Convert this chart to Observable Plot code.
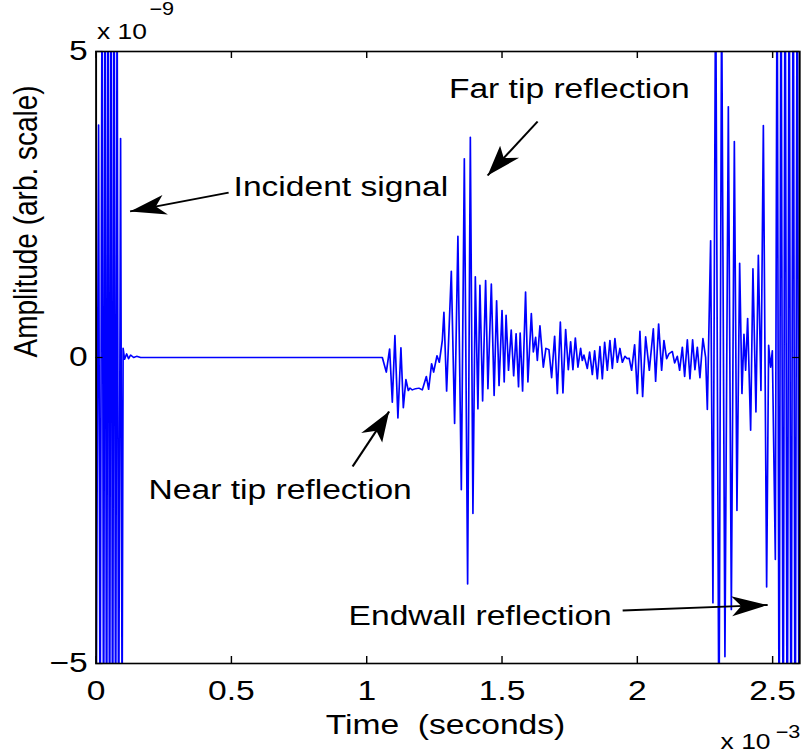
<!DOCTYPE html>
<html><head><meta charset="utf-8">
<script src="https://cdn.jsdelivr.net/npm/d3@7"></script>
<script src="https://cdn.jsdelivr.net/npm/@observablehq/plot@0.6"></script>
<style>
html,body{margin:0;padding:0;background:#fff;overflow:hidden;}
#chart svg{transform:scaleX(1.2);transform-origin:0 0;display:block;}
svg text{white-space:pre;}
</style></head><body><div id="chart"></div>
<script>
// time in units of 1e-3 s, amplitude in units of 1e-9
const time = [
  0, 0.0092, 0.0148, 0.0222, 0.0277, 0.0333, 0.0388, 0.0443, 0.0499, 0.0554,
  0.0610, 0.0665, 0.0721, 0.0776, 0.0831, 0.0905, 0.0961, 0.0998, 0.1053, 0.1127,
  0.1201, 0.1275, 0.1386, 0.1497, 0.1645, 1.0577, 1.0724, 1.0847, 1.0946, 1.1042,
  1.1153, 1.1264, 1.1353, 1.1449, 1.1537, 1.1597, 1.1685, 1.1807, 1.1929, 1.2055,
  1.2203, 1.2288, 1.2398, 1.2473, 1.2597, 1.2682, 1.2794, 1.2853, 1.2953, 1.3126,
  1.3248, 1.3370, 1.3496, 1.3607, 1.3729, 1.3829, 1.3925, 1.4013, 1.4109, 1.4183,
  1.4283, 1.4394, 1.4479, 1.4605, 1.4708, 1.4800, 1.4890, 1.5000, 1.5080, 1.5150,
  1.5240, 1.5340, 1.5430, 1.5520, 1.5610, 1.5670, 1.5760, 1.5870, 1.5957, 1.6083,
  1.6157, 1.6242, 1.6305, 1.6401, 1.6526, 1.6622, 1.6733, 1.6833, 1.6944, 1.7044,
  1.7155, 1.7251, 1.7351, 1.7450, 1.7535, 1.7620, 1.7709, 1.7805, 1.7905, 1.7967,
  1.8027, 1.8152, 1.8237, 1.8337, 1.8422, 1.8522, 1.8618, 1.8707, 1.8792, 1.8891,
  1.8987, 1.9076, 1.9172, 1.9261, 1.9357, 1.9446, 1.9542, 1.9630, 1.9697, 1.9789,
  1.9900, 2.0000, 2.0096, 2.0196, 2.0307, 2.0443, 2.0591, 2.0676, 2.0787, 2.0898,
  2.0983, 2.1083, 2.1168, 2.1293, 2.1378, 2.1478, 2.1563, 2.1663, 2.1748, 2.1848,
  2.1944, 2.2043, 2.2128, 2.2217, 2.2313, 2.2424, 2.2524, 2.2587, 2.2709, 2.2794,
  2.2894, 2.3016, 2.3115, 2.3237, 2.3363, 2.3474, 2.3585, 2.3681, 2.3781, 2.3866,
  2.3940, 2.4002, 2.4076, 2.4187, 2.4272, 2.4383, 2.4472, 2.4568, 2.4657, 2.4778,
  2.4852, 2.4926, 2.4989, 2.5100, 2.5166, 2.5240, 2.5310, 2.5390, 2.5460, 2.5540,
  2.5610, 2.5680, 2.5760, 2.5830, 2.5910, 2.5980, 2.6050
];
const amplitude = [
  -6.5, 3.8, -7, 7, -7.5, 7.5, -8, 8, -8, 8,
  -8, 7.5, -7.5, 6.5, -7, 3.58, -6, 0.15, -0.03, 0.06,
  -0.02, 0.04, 0, 0.02, 0, 0, -0.24, 0.14, -0.73, 0.36,
  -0.99, 0.16, -0.82, -0.36, -0.54, -0.50, -0.53, -0.51, -0.50, -0.53,
  -0.31, -0.52, -0.10, -0.24, 0.03, -0.08, 0.28, 0.74, -0.55, 1.41,
  -1.08, 1.98, -2.16, 3.25, -3.70, 3.60, -2.55, 1.32, -0.84, 1.18,
  -0.71, 1.26, -0.51, 1.20, -0.62, 0.93, -0.46, 0.77, -0.40, 0.69,
  -0.21, 0.45, -0.30, 0.39, -0.48, 0.40, -0.55, 1.07, -0.40, 0.72,
  0.09, 0.33, -0.05, 0.52, -0.16, 0.15, 0.13, -0.33, 0.35, -0.59,
  0.58, -0.58, 0.46, -0.20, 0.26, -0.20, 0.32, -0.16, 0.15, -0.05,
  0.04, -0.18, 0.09, -0.28, 0.11, -0.35, 0.18, -0.35, 0.25, -0.21,
  0.28, -0.18, 0.31, -0.08, 0.15, -0.08, 0.02, -0.02, -0.01, -0.21,
  0.21, -0.59, 0.43, -0.64, 0.34, -0.21, 0.47, -0.39, 0.55, -0.21,
  0.28, -0.02, 0.06, 0.10, -0.09, 0.02, -0.21, 0.17, -0.31, 0.29,
  -0.35, 0.29, -0.20, 0.17, -0.33, 0.31, 0.00, -0.85, 1.91, -4.01,
  6.5, -6.5, 6, -4.89, 4.10, -4.12, 3.53, -2.50, 1.54, -0.59,
  0.38, -0.21, 0.64, -1.19, 1.45, -0.89, 1.67, -0.54, 3.79, -3.75,
  0.20, -0.16, 0.11, -3.30, 7, -7, 7.5, -7.5, 8, -8,
  8, -8, 8, -8, 8, -8, 8
];
const xTicks = [0, 0.5, 1, 1.5, 2, 2.5];
const xTickLabels = ["0", "0.5", "1", "1.5", "2", "2.5"];
const yTicks = [-5, 0, 5];
const yTickLabels = ["\u22125", "0", "5"];
const xLabel = "Time  (seconds)";
const yLabel = "Amplitude (arb. scale)";
const xExponent = ["x 10", "\u22123"];
const yExponent = ["x 10", "\u22129"];
const annotationLabels = ["Incident signal", "Far tip reflection", "Near tip reflection", "Endwall reflection"];
const labelTime = [0.508, 1.3037, 0.194, 0.933];
const labelAmp = [2.778, 4.39, -2.173, -4.224];
const arrowFromTime = [0.4897, 1.6315, 0.9479, 1.9457];
const arrowFromAmp = [2.696, 3.856, -1.781, -4.134];
const arrowToTime = [0.1256, 1.4468, 1.0828, 2.4815];
const arrowToAmp = [2.386, 2.974, -0.882, -4.044];

// layout (drawn at 1/1.2 width, then stretched horizontally to 801px)
const S = 1.2;
const W = 801 / S, H = 753;
const mL = 95.5 / S, mR = (801 - 799.1) / S, mT = 51, mB = 90;
const plotW = W - mL - mR, plotH = H - mT - mB;
const xDomain = [0, 2.6], yDomain = [-5, 5];
const kx = plotW / (xDomain[1] - xDomain[0]), ky = plotH / (yDomain[1] - yDomain[0]);

const signal = time.map((t, i) => ({t, a: amplitude[i]}));
const notes = annotationLabels.map((s, i) => ({s, t: labelTime[i], a: labelAmp[i]}));
const arrows = arrowFromTime.map((t, i) => ({
  x1: t, y1: arrowFromAmp[i], x2: arrowToTime[i], y2: arrowToAmp[i],
  angle: Math.atan2(-(arrowToAmp[i] - arrowFromAmp[i]) * ky, (arrowToTime[i] - t) * kx) * 180 / Math.PI
}));
const headSymbol = {draw(ctx) {
  const L = 30, w = 10, n = 22;
  ctx.moveTo(0, 0); ctx.lineTo(-L, -w); ctx.lineTo(-n, 0); ctx.lineTo(-L, w); ctx.closePath();
}};

const chart = Plot.plot({
  width: W, height: H,
  marginLeft: mL, marginRight: mR, marginTop: mT, marginBottom: mB,
  style: {fontFamily: "'Liberation Sans', Arial, Helvetica, sans-serif", fontSize: "28px", color: "black", background: "white", overflow: "visible"},
  x: {domain: xDomain, ticks: xTicks, tickFormat: d => xTickLabels[xTicks.indexOf(d)], tickSize: 0, tickPadding: 17, label: null},
  y: {domain: yDomain, ticks: yTicks, tickFormat: d => yTickLabels[yTicks.indexOf(d)], tickSize: 0, tickPadding: 7, label: null},
  marks: [
    Plot.line(signal, {x: "t", y: "a", stroke: "#0000ff", strokeWidth: 1.4, clip: true}),
    Plot.ruleX(xTicks, {insetTop: plotH - 7, stroke: "black", strokeWidth: 1.2}),
    Plot.ruleX(xTicks, {insetBottom: plotH - 7, stroke: "black", strokeWidth: 1.2}),
    Plot.ruleY(yTicks, {insetRight: plotW - 7 / S, stroke: "black", strokeWidth: 1.2}),
    Plot.ruleY(yTicks, {insetLeft: plotW - 7 / S, stroke: "black", strokeWidth: 1.2}),
    Plot.frame({stroke: "black", strokeWidth: 1.6}),
    Plot.link(arrows, {x1: "x1", y1: "y1", x2: "x2", y2: "y2", stroke: "black", strokeWidth: 1.8}),
    Plot.dot(arrows, {x: "x2", y: "y2", rotate: "angle", symbol: headSymbol, fill: "black", stroke: "none"}),
    Plot.text(notes, {x: "t", y: "a", text: "s", textAnchor: "start", lineAnchor: "middle", fontSize: 28, fill: "black"}),
    Plot.text([xLabel], {frameAnchor: "bottom", dy: 62, dx: -2, lineAnchor: "middle", fontSize: 28, fill: "black"}),
    Plot.text([yLabel], {frameAnchor: "left", rotate: -90, dx: -58.6, lineAnchor: "middle", fontSize: 28, fill: "black"}),
    Plot.text([yExponent[0]], {frameAnchor: "top-left", dx: 0.7, dy: -20, textAnchor: "start", lineAnchor: "middle", fontSize: 22, fill: "black"}),
    Plot.text([yExponent[1]], {frameAnchor: "top-left", dx: 44.4, dy: -41.8, textAnchor: "start", lineAnchor: "middle", fontSize: 18, fill: "black"}),
    Plot.text([xExponent[0]], {frameAnchor: "bottom-right", dx: -65.9, dy: 78, textAnchor: "start", lineAnchor: "middle", fontSize: 22, fill: "black"}),
    Plot.text([xExponent[1]], {frameAnchor: "bottom-right", dx: -20, dy: 69.2, textAnchor: "start", lineAnchor: "middle", fontSize: 18, fill: "black"})
  ]
});
document.getElementById("chart").append(chart);
</script></body></html>
